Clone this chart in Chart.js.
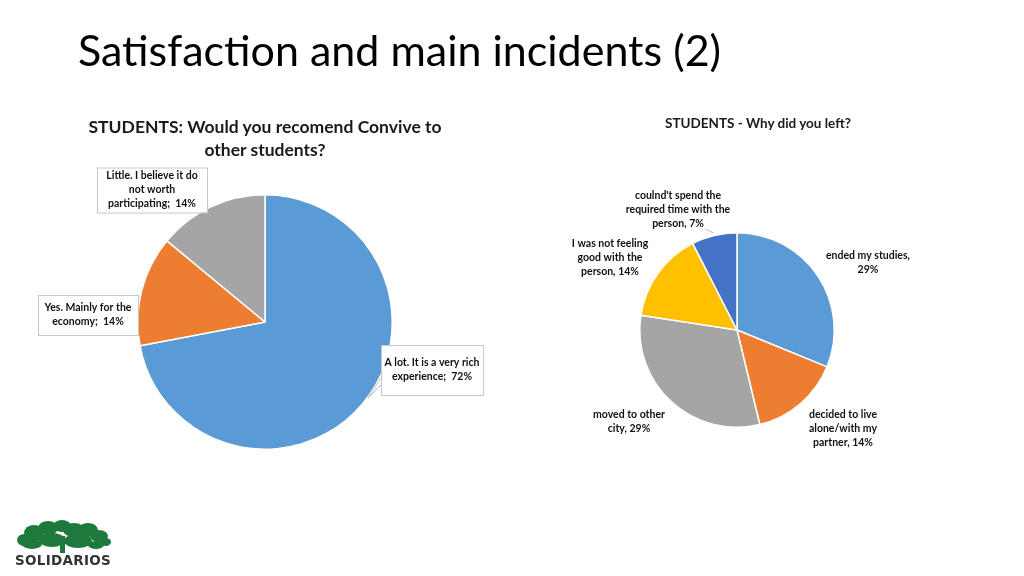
<!DOCTYPE html>
<html>
<head>
<meta charset="utf-8">
<script src="https://cdn.jsdelivr.net/npm/chart.js@4/dist/chart.umd.min.js"></script>
<style>
  body { margin: 0; background: #fff; font-family: Lato, "Open Sans", sans-serif; }
  #slide { position: relative; width: 1024px; height: 576px; overflow: hidden; background: #fff; }
  canvas { position: absolute; top: 0; }
  .title { position: absolute; left: 78px; top: 24px; font-size: 43px; color: #000; white-space: nowrap; }
  .sub { position: absolute; font-weight: bold; color: #1a1a1a; text-align: center; }
</style>
</head>
<body>
<div id="slide">
  <canvas id="leftPie" width="512" height="576" style="left:0"></canvas>
  <canvas id="rightPie" width="512" height="576" style="left:512px"></canvas>
  <canvas id="logo" width="120" height="60" style="left:8px; top:516px"></canvas>
  <div class="title">Satisfaction and main incidents (2)</div>
  <div class="sub" style="left:55px; top:115px; width:420px; font-size:17.5px; line-height:23px;">STUDENTS: Would you recomend Convive to<br>other students?</div>
  <div class="sub" style="left:608px; top:115px; width:300px; font-size:13.5px;">STUDENTS - Why did you left?</div>
</div>
<script>
// left pie: would you recommend
const leftCategories = [
  ['A lot. It is a very rich', 'experience'],
  ['Yes. Mainly for the', 'economy'],
  ['Little. I believe it do', 'not worth', 'participating']
];
const leftValues = [72, 14, 14];

// right pie: why did you left
const rightCategories = [
  ['ended my studies,', ''],
  ['decided to live', 'alone/with my', 'partner'],
  ['moved to other', 'city'],
  ['I was not feeling', 'good with the', 'person'],
  ["coulnd't spend the", 'required time with the', 'person']
];
const rightValues = [29, 14, 29, 14, 7];

const leftColors = ['#5B9BD5', '#ED7D31', '#A5A5A5'];
const rightColors = ['#5B9BD5', '#ED7D31', '#A5A5A5', '#FFC000', '#4472C4'];

function labelLines(cat, value, sep) {
  const lines = cat.slice(0, -1);
  const last = cat[cat.length - 1];
  lines.push(last ? last + sep + value + '%' : value + '%');
  return lines;
}

// draws the data labels, optionally in a callout box
const calloutLabels = {
  id: 'calloutLabels',
  afterDraw(chart, args, opts) {
    const ctx = chart.ctx;
    const arc = chart.getDatasetMeta(0).data[0];
    const cx = arc.x, cy = arc.y;
    const cats = opts.categories;
    const vals = chart.data.datasets[0].data;
    ctx.save();
    ctx.font = 'bold 10.5px Lato, "Open Sans", sans-serif';
    ctx.textAlign = 'center';
    ctx.textBaseline = 'middle';
    cats.forEach((cat, i) => {
      const p = opts.place[i];
      const x = cx + p.dx, y = cy + p.dy;
      const lines = labelLines(cat, vals[i], opts.sep);
      if (p.w) {
        ctx.fillStyle = '#fff';
        ctx.strokeStyle = '#C8C8C8';
        ctx.lineWidth = 1;
        ctx.fillRect(x - p.w / 2, y - p.h / 2, p.w, p.h);
        ctx.strokeRect(x - p.w / 2 + 0.5, y - p.h / 2 + 0.5, p.w, p.h);
      }
      if (p.lead) {
        ctx.strokeStyle = '#BFBFBF';
        ctx.lineWidth = 1;
        ctx.beginPath();
        ctx.moveTo(cx + p.lead[0], cy + p.lead[1]);
        ctx.lineTo(cx + p.lead[2], cy + p.lead[3]);
        if (p.lead.length > 4) ctx.lineTo(cx + p.lead[4], cy + p.lead[5]);
        ctx.stroke();
      }
      ctx.fillStyle = '#111';
      const lh = 14;
      const top = y - (lines.length - 1) * lh / 2;
      lines.forEach((ln, k) => ctx.fillText(ln, x, top + k * lh));
    });
    ctx.restore();
  }
};

function makePie(id, values, colors, padding, labelOpts) {
  return new Chart(document.getElementById(id), {
    type: 'pie',
    data: {
      labels: values.map((v, i) => 'slice ' + i),
      datasets: [{
        data: values,
        backgroundColor: colors,
        borderColor: '#fff',
        borderWidth: 1.5
      }]
    },
    options: {
      responsive: false,
      animation: false,
      layout: { padding: padding },
      plugins: {
        legend: { display: false },
        tooltip: { enabled: false },
        calloutLabels: labelOpts
      }
    },
    plugins: [calloutLabels]
  });
}

makePie('leftPie', leftValues, leftColors,
  { left: 137, right: 119, top: 194, bottom: 126 },
  {
    categories: leftCategories,
    sep: ';  ',
    place: [
      { dx: 167, dy: 48, w: 102, h: 50, lead: [116, 63, 103, 76, 116, 56] },
      { dx: -177, dy: -7, w: 100, h: 40 },
      { dx: -113, dy: -132, w: 110, h: 45 }
    ]
  });

makePie('rightPie', rightValues, rightColors,
  { left: 127, right: 189, top: 232, bottom: 148 },
  {
    categories: rightCategories,
    sep: ', ',
    place: [
      { dx: 131, dy: -67 },
      { dx: 106, dy: 99 },
      { dx: -108, dy: 92 },
      { dx: -127, dy: -72 },
      { dx: -59, dy: -120, lead: [-32, -101, -23, -97] }
    ]
  });

// logo
(function () {
  const c = document.getElementById('logo').getContext('2d');
  c.fillStyle = '#1E7A3C';
  const blobs = [[16, 24, 7, 6], [26, 17, 10, 8], [40, 12, 10, 7], [54, 10, 9, 6], [66, 14, 11, 7], [80, 14, 10, 7],
                 [91, 20, 9, 6], [98, 26, 5, 4], [24, 28, 10, 5], [44, 24, 13, 7], [70, 25, 14, 7], [88, 29, 8, 4]];
  blobs.forEach(b => { c.beginPath(); c.ellipse(b[0], b[1], b[2], b[3], 0, 0, Math.PI * 2); c.fill(); });
  c.fillRect(52, 20, 5, 17);
  c.fillStyle = '#333';
  c.font = 'bold 13.5px "DejaVu Sans", sans-serif';
  c.textBaseline = 'alphabetic';
  c.textAlign = 'left';
  const word = 'SOLIDARIOS';
  let x = 7;
  for (const ch of word) { c.fillText(ch, x, 49); x += c.measureText(ch).width + 0.3; }
})();
</script>
</body>
</html>
